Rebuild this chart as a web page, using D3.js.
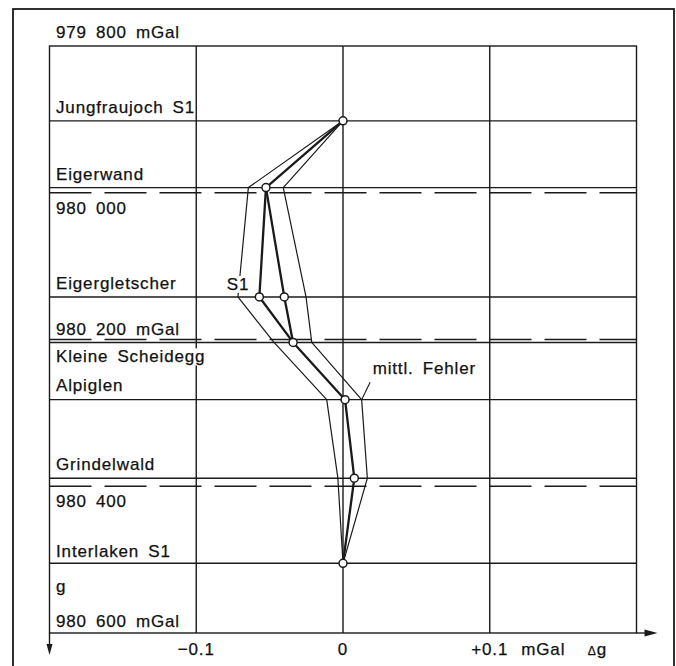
<!DOCTYPE html>
<html>
<head>
<meta charset="utf-8">
<script src="https://cdn.jsdelivr.net/npm/d3@7"></script>
<style>
  body { margin: 0; background: #fff; }
  svg text {
    font-family: "Liberation Sans", Arial, sans-serif;
    font-size: 17px;
    letter-spacing: 0.85px;
    word-spacing: 3.5px;
    fill: #111;
    stroke: #111;
    stroke-width: 0.25px;
  }
</style>
</head>
<body>
<svg width="676" height="666"></svg>
<script>
// stations along the line, top to bottom, with their g level (mGal)
var stationNames = ["Jungfraujoch S1", "Eigerwand", "Eigergletscher", "Kleine Scheidegg", "Alpiglen", "Grindelwald", "Interlaken S1"];
var stationG = [979902, 979993, 980142, 980204, 980282, 980389, 980505];

// delta g (mGal) per station: mean via S1, second branch at Eigergletscher, error band
var meanDg = [0, -0.0525, -0.057, -0.034, 0.0014, 0.0077, 0];
var altDg = [null, -0.0525, -0.040, -0.034, null, null, null];
var lowDg = [0, -0.0645, -0.0716, -0.047, -0.0111, -0.0035, 0];
var highDg = [0, -0.0407, -0.0252, -0.0213, 0.0127, 0.0166, 0];

var gTicks = [979800, 980000, 980200, 980400, 980600];
var gTickLabels = ["979 800 mGal", "980 000", "980 200 mGal", "980 400", "980 600 mGal"];
var dgTicks = [-0.1, 0, 0.1];
var dgTickLabels = ["\u22120.1", "0", "+0.1"];

// label layout (baseline offsets from their line)
var stationLabelDy = [-8, -8, -8, 20, -9, -8, -6];
var gTickLabelDy = [-8, 21.5, -4.5, 20.5, -6.3];

var svg = d3.select("svg");
var ink = "#1a1a1a";

var x = d3.scaleLinear().domain([-0.2, 0.2]).range([49.5, 636.5]);
var y = d3.scaleLinear().domain([979800, 980600]).range([46, 633]);

var plotLeft = x.range()[0], plotRight = x.range()[1];
var plotTop = y.range()[0], plotBottom = y.range()[1];

// outer frame
svg.append("rect")
  .attr("x", 13).attr("y", 9).attr("width", 661).attr("height", 720)
  .attr("fill", "none").attr("stroke", ink).attr("stroke-width", 1.8);

var grid = svg.append("g").attr("stroke", ink).attr("stroke-width", 1.4).attr("fill", "none");

// plot box
grid.append("rect")
  .attr("x", plotLeft).attr("y", plotTop)
  .attr("width", plotRight - plotLeft).attr("height", plotBottom - plotTop);

// vertical grid lines
grid.selectAll("line.v").data(dgTicks).enter().append("line")
  .attr("class", "v")
  .attr("x1", function(d) { return x(d); }).attr("x2", function(d) { return x(d); })
  .attr("y1", plotTop).attr("y2", plotBottom);

// station lines
grid.selectAll("line.st").data(stationG).enter().append("line")
  .attr("class", "st")
  .attr("x1", plotLeft).attr("x2", plotRight)
  .attr("y1", function(d) { return y(d); }).attr("y2", function(d) { return y(d); });

// dashed g levels
grid.selectAll("line.gl").data(gTicks.slice(1, -1)).enter().append("line")
  .attr("class", "gl")
  .attr("x1", plotLeft).attr("x2", plotRight)
  .attr("y1", function(d) { return y(d); }).attr("y2", function(d) { return y(d); })
  .attr("stroke-dasharray", "42,13");

// axis arrows
grid.append("line").attr("x1", plotLeft).attr("x2", plotLeft).attr("y1", plotBottom).attr("y2", plotBottom + 14);
grid.append("line").attr("x1", plotRight).attr("x2", plotRight + 12).attr("y1", plotBottom).attr("y2", plotBottom);
svg.append("path")
  .attr("d", "M" + (plotLeft - 3) + "," + (plotBottom + 11) + "L" + plotLeft + "," + (plotBottom + 22) + "L" + (plotLeft + 3) + "," + (plotBottom + 11) + "Z")
  .attr("fill", ink);
svg.append("path")
  .attr("d", "M" + (plotRight + 8) + "," + (plotBottom - 3.5) + "L" + (plotRight + 21) + "," + plotBottom + "L" + (plotRight + 8) + "," + (plotBottom + 3.5) + "Z")
  .attr("fill", ink);

// data lines
function series(vals) {
  return vals.map(function(v, i) { return { v: v, g: stationG[i] }; });
}
var line = d3.line()
  .defined(function(d) { return d.v !== null; })
  .x(function(d) { return x(d.v); })
  .y(function(d) { return y(d.g); });

var lines = svg.append("g").attr("fill", "none").attr("stroke", ink).attr("stroke-linejoin", "round");
lines.append("path").datum(series(lowDg)).attr("d", line).attr("stroke-width", 1.2);
lines.append("path").datum(series(highDg)).attr("d", line).attr("stroke-width", 1.2);
lines.append("path").datum(series(meanDg)).attr("d", line).attr("stroke-width", 2.3);
lines.append("path").datum(series(altDg)).attr("d", line).attr("stroke-width", 2.3);

// labels
var labels = svg.append("g");

function boxed(sel) {
  sel.each(function() {
    var node = this;
    var b = node.getBBox();
    d3.select(node.parentNode).insert("rect", function() { return node; })
      .attr("x", b.x - 1).attr("y", b.y + 1)
      .attr("width", b.width + 2).attr("height", b.height - 2)
      .attr("fill", "#fff");
  });
}

labels.selectAll("text.st").data(stationNames).enter().append("text")
  .attr("class", "st")
  .attr("x", 56)
  .attr("y", function(d, i) { return y(stationG[i]) + stationLabelDy[i]; })
  .text(function(d) { return d; })
  .filter(function(d) { return d === "Kleine Scheidegg"; })
  .call(boxed);

labels.selectAll("text.gt").data(gTicks).enter().append("text")
  .attr("class", "gt")
  .attr("x", 56)
  .attr("y", function(d, i) { return y(d) + gTickLabelDy[i]; })
  .text(function(d, i) { return gTickLabels[i]; });

labels.append("text").attr("x", 56).attr("y", plotBottom - 41.5).text("g");

labels.selectAll("text.dt").data(dgTicks).enter().append("text")
  .attr("class", "dt")
  .attr("x", function(d) { return x(d); })
  .attr("y", plotBottom + 22)
  .attr("text-anchor", "middle")
  .text(function(d, i) { return dgTickLabels[i]; });

labels.append("text").attr("x", x(0.1) + 31.5).attr("y", plotBottom + 22).text("mGal");
var dgTitle = labels.append("text").attr("x", x(0.1) + 98).attr("y", plotBottom + 22);
dgTitle.append("tspan").style("font-size", "12px").text("\u0394");
dgTitle.append("tspan").text("g");

// S1 tag next to the Eigergletscher S1 point
labels.append("text")
  .attr("x", x(meanDg[2]) - 10).attr("y", y(stationG[2]) - 7)
  .attr("text-anchor", "end")
  .text("S1")
  .call(boxed);

// mittl. Fehler with leader to the error band
var lx = x(highDg[4]), ly = y(stationG[4]);
svg.append("line")
  .attr("x1", lx).attr("y1", ly)
  .attr("x2", lx + 8.5).attr("y2", ly - 17.5)
  .attr("stroke", ink).attr("stroke-width", 1.1);
labels.append("text").attr("x", lx + 11).attr("y", ly - 26).text("mittl. Fehler");

// points
var pts = series(meanDg).concat(series(altDg).filter(function(d, i) { return d.v !== null && d.v !== meanDg[i]; }));
svg.append("g").selectAll("circle").data(pts).enter().append("circle")
  .attr("cx", function(d) { return x(d.v); })
  .attr("cy", function(d) { return y(d.g); })
  .attr("r", 4)
  .attr("fill", "#fff")
  .attr("stroke", ink)
  .attr("stroke-width", 1.5);
</script>
</body>
</html>
